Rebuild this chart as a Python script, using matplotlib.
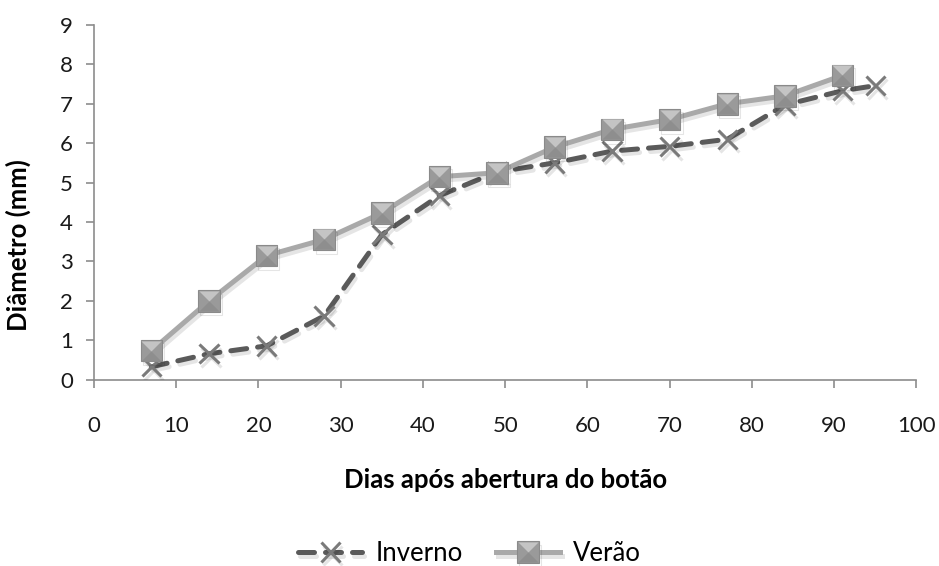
import numpy as np
import matplotlib
matplotlib.use("Agg")
import matplotlib.pyplot as plt
import matplotlib.patheffects as pe
from matplotlib.legend_handler import HandlerTuple

plt.rcParams['font.family'] = ['Lato', 'DejaVu Sans']

# dias apos abertura do botao
dias_inverno = [7, 14, 21, 28, 35, 42, 49, 56, 63, 70, 77, 84, 91, 95]
diam_inverno = [0.33, 0.66, 0.86, 1.62, 3.68, 4.67, 5.27, 5.5, 5.8, 5.92, 6.1, 6.97, 7.33, 7.46]

dias_verao = [7, 14, 21, 28, 35, 42, 49, 56, 63, 70, 77, 84, 91]
diam_verao = [0.74, 2.0, 3.15, 3.56, 4.23, 5.15, 5.25, 5.9, 6.35, 6.6, 7.0, 7.2, 7.72]

xticks = list(range(0, 101, 10))
yticks = list(range(0, 10))

axis_gray = '#8c8c8c'
shadow = [pe.SimpleLineShadow(offset=(1.5, -2.5), shadow_color='k', alpha=0.1), pe.Normal()]

fig = plt.figure(figsize=(9.39, 5.66), dpi=100)
ax = fig.add_axes([0.100, 0.329, 0.876, 0.627])

l_inv, = ax.plot(dias_inverno, diam_inverno, color='#5a5a5a', lw=3.6, ls=(0, (3.2, 2.2)),
                 dash_capstyle='round', marker='x', ms=14, mew=2.2, mec='#7a7a7a',
                 path_effects=shadow, zorder=3)

l_ver, = ax.plot(dias_verao, diam_verao, color='#a9a9a9', lw=3.6, marker='s', ms=15.5,
                 mfc='#9a9a9a', mec='#8a8a8a', mew=0.8, path_effects=shadow, zorder=4)

# bevel on the square markers: lighter top, darker bottom
top_tri = [(-1, 1), (1, 1), (0, 0), (-1, 1)]
bot_tri = [(-1, -1), (1, -1), (0, 0), (-1, -1)]
l_top, = ax.plot(dias_verao, diam_verao, ls='none', marker=top_tri, ms=14.5,
                 mfc='#c4c4c4', mec='none', zorder=5)
l_bot, = ax.plot(dias_verao, diam_verao, ls='none', marker=bot_tri, ms=14.5,
                 mfc='#8e8e8e', mec='none', zorder=5)

ax.set_xlim(0, 100)
ax.set_ylim(0, 9)
ax.set_xticks(xticks)
ax.set_yticks(yticks)
ax.tick_params(direction='out', length=6, width=1.2, color=axis_gray,
               labelsize=16, labelcolor='#1a1a1a', pad=9)
ax.tick_params(axis='x', pad=20)

for side in ['top', 'right']:
    ax.spines[side].set_visible(False)
for side in ['left', 'bottom']:
    ax.spines[side].set_color(axis_gray)
    ax.spines[side].set_linewidth(1.2)

ax.set_xlabel('Dias após abertura do botão', fontsize=18.5, fontweight='bold', labelpad=23)
ax.set_ylabel('Diâmetro (mm)', fontsize=18.5, fontweight='bold')
ax.yaxis.set_label_coords(-0.077, 0.38)

fig.legend([l_inv, (l_ver, l_top, l_bot)], ['Inverno', 'Verão'],
           handler_map={tuple: HandlerTuple(ndivide=1)},
           loc='center', bbox_to_anchor=(0.5, 0.022), ncol=2, frameon=False,
           fontsize=18.5, handlelength=2.5, columnspacing=1.3, handletextpad=0.5)

fig.savefig('out.png', dpi=100)
